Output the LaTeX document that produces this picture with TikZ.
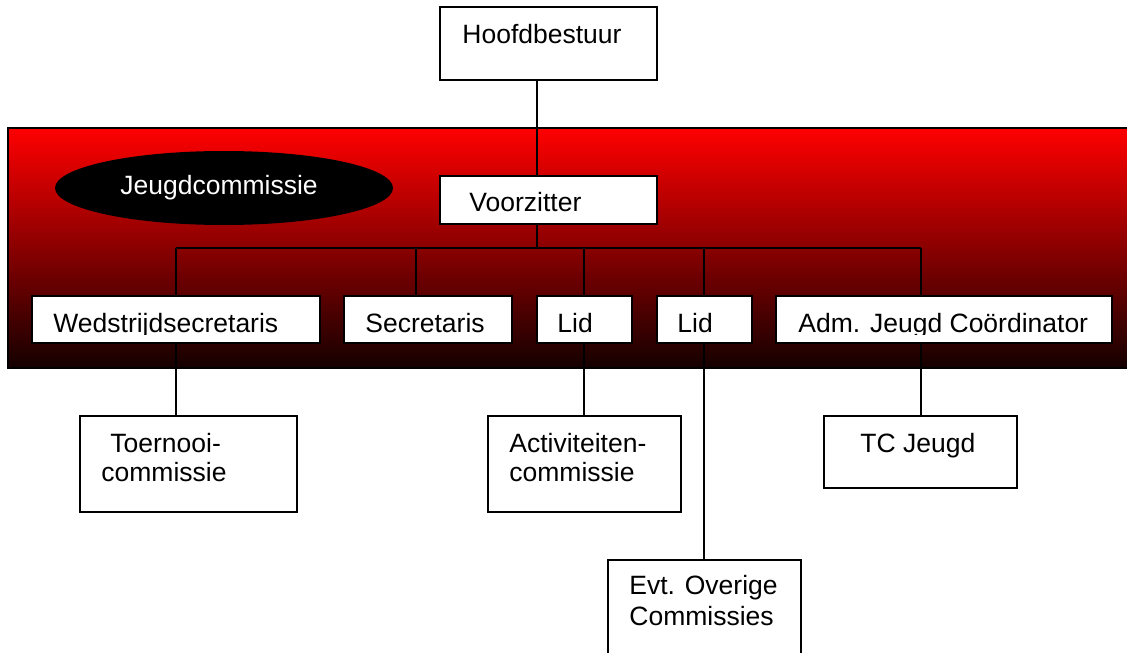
\documentclass[tikz,border=0pt]{standalone}
\usepackage{fontspec}
\setmainfont{Liberation Sans}
\usetikzlibrary{shapes.geometric}
\begin{document}
\begin{tikzpicture}[x=0.5pt,y=-0.5pt,
  box/.style={draw=black, line width=0.8pt, fill=white, rectangle, inner sep=0pt},
  lbl/.style={anchor=base west, inner sep=0pt, font=\fontsize{13.25}{15}\selectfont},
  conn/.style={draw=black, line width=0.7pt}]
\useasboundingbox (0,0) rectangle (1127,652);
% red band
\shade[top color=red, middle color=red!67!black, bottom color=red!8!black] (8,128) rectangle (1140,368);
\draw[line width=0.6pt] (8,128) rectangle (1140,368);
% ellipse
\node[ellipse, fill=black, minimum width=169pt, minimum height=37pt, inner sep=0pt] (jc) at (224,188) {};
\node[lbl, text=white] (jct) at (120,194) {Jeugdcommissie};
% boxes
\node[box, minimum width=108.5pt, minimum height=36.5pt] (hb) at (548.5,43.5) {};
\node[box, minimum width=108.5pt, minimum height=24pt] (vz) at (548.5,200) {};
\node[box, minimum width=144pt, minimum height=23.5pt] (wed) at (176,319.5) {};
\node[box, minimum width=84pt, minimum height=23.5pt] (sec) at (428,319.5) {};
\node[box, minimum width=47.5pt, minimum height=23.5pt] (lid1) at (584.5,319.5) {};
\node[box, minimum width=47.5pt, minimum height=23.5pt] (lid2) at (704.5,319.5) {};
\node[box, minimum width=168pt, minimum height=23.5pt] (adm) at (944,319.5) {};
\node[box, minimum width=108.5pt, minimum height=48pt] (toer) at (188.5,464) {};
\node[box, minimum width=96.5pt, minimum height=48pt] (act) at (584.5,464) {};
\node[box, minimum width=96.5pt, minimum height=36pt] (tc) at (920.5,452) {};
\node[box, minimum width=96.5pt, minimum height=70pt] (evt) at (704.5,630) {};
% bus coordinates
\coordinate (b0) at (537,248);
\coordinate (b1) at (176,248);
\coordinate (b2) at (416,248);
\coordinate (b3) at (584,248);
\coordinate (b4) at (704,248);
\coordinate (b5) at (921,248);
% connectors
\draw[conn] (hb.south -| b0) -- (vz.north -| b0);
\draw[conn] (vz.south -| b0) -- (b0);
\draw[conn] (b1) -- (b5);
\draw[conn] (b1) -- (b1 |- wed.north);
\draw[conn] (b2) -- (b2 |- sec.north);
\draw[conn] (b3) -- (b3 |- lid1.north);
\draw[conn] (b4) -- (b4 |- lid2.north);
\draw[conn] (b5) -- (b5 |- adm.north);
\draw[conn] (wed.south -| b1) -- (b1 |- toer.north);
\draw[conn] (lid1.south -| b3) -- (b3 |- act.north);
\draw[conn] (lid2.south -| b4) -- (b4 |- evt.north);
\draw[conn] (adm.south -| b5) -- (b5 |- tc.north);
% texts
\node[lbl] (hbt) at (462,44) {Hoofdbestuur};
\node[lbl] (vzt) at (469,212) {Voorzitter};
\begin{scope}
\clip (0,290) rectangle (1127,334);
\node[lbl] (wedt) at (53,332) {Wedstrijdsecretaris};
\node[lbl] (sect) at (365,332) {Secretaris};
\node[lbl] (lid1t) at (557,332) {Lid};
\node[lbl] (lid2t) at (677,332) {Lid};
\node[lbl] (admt) at (798,332) {Adm. Jeugd Coördinator};
\end{scope}
\node[lbl] (toerA) at (110,452) {Toernooi-};
\node[lbl] (toerB) at (101,481) {commissie};
\node[lbl] (actA) at (509,452) {Activiteiten-};
\node[lbl] (actB) at (509,481) {commissie};
\node[lbl] (tct) at (860,452) {TC Jeugd};
\node[lbl] (evtA) at (629,594) {Evt. Overige};
\node[lbl] (evtB) at (629,625) {Commissies};
\end{tikzpicture}
\end{document}
